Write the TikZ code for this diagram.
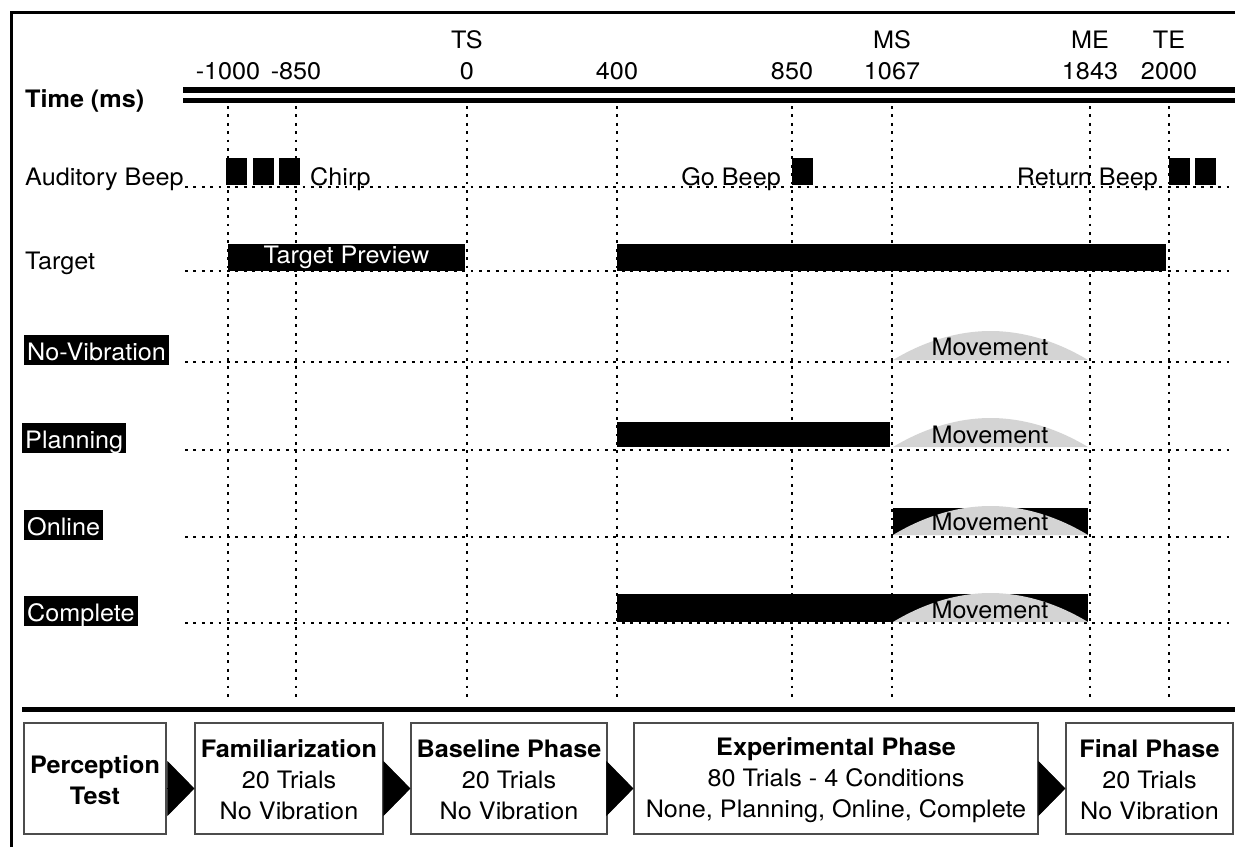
\documentclass[tikz,border=0pt]{standalone}
\usepackage{fontspec}
\setmainfont{TeX Gyre Heros}[FakeStretch=1.05]
\usetikzlibrary{arrows.meta}

\begin{document}
\begin{tikzpicture}[x=1pt, y=-1pt]
\tikzstyle{every node}=[font=\fontsize{24}{31}\selectfont, inner sep=0pt]
\tikzstyle{grid}=[line width=2.8pt, dash pattern=on 2.8pt off 5.6pt]
\tikzstyle{bar}=[fill=black]
\tikzstyle{move}=[fill=black!17]
\tikzstyle{tag}=[fill=black, text=white, inner xsep=3pt, inner ysep=2pt, text height=23pt, text depth=3pt, anchor=base west]
\tikzstyle{phase}=[draw=black!70, line width=1.2pt, align=center, minimum height=111pt]
\tikzstyle{next}=[-{Triangle[length=27pt, width=55pt]}, line width=0.5pt]

\useasboundingbox (0,0) rectangle (1235,847);

% frame
\draw[line width=3pt] (11,847) -- (11,12) -- (1235,12);

% time axis
\node[anchor=base west, font=\fontsize{24}{31}\selectfont\bfseries] (time) at (25,107) {Time (ms)};
\draw[line width=6pt] (183,90) -- (1235,90);
\draw[line width=5pt] (183,100.5) -- (1235,100.5);

\node[anchor=base] (TS) at (467,48) {TS};
\node[anchor=base] (MS) at (892,48) {MS};
\node[anchor=base] (ME) at (1090,48) {ME};
\node[anchor=base] (TE) at (1169,48) {TE};

\node[anchor=base] (t0) at (228,79) {-1000};
\node[anchor=base] (t1) at (296,79) {-850};
\node[anchor=base] (t2) at (467,79) {0};
\node[anchor=base] (t3) at (617,79) {400};
\node[anchor=base] (t4) at (792,79) {850};
\node[anchor=base] (t5) at (892,79) {1067};
\node[anchor=base] (t6) at (1090,79) {1843};
\node[anchor=base] (t7) at (1169,79) {2000};

% dotted grid
\foreach \t in {228,296,467,617,792,892,1090,1169}
  \draw[grid] (\t,106) -- (\t,700);
\foreach \r in {187,271,362,450,537,623}
  \draw[grid] (185,\r) -- (1235,\r);

% rows
\node[anchor=base west] (beep) at (25,185.5) {Auditory Beep};
\node[anchor=base west] (target) at (25,269) {Target};
\node[tag] (novib) at (24,360) {No-Vibration};
\node[tag] (plan) at (22,448) {Planning};
\node[tag] (online) at (24,535) {Online};
\node[tag] (complete) at (24,621) {Complete};

% auditory beeps
\fill[bar] (226,158) rectangle ++(21,27);
\fill[bar] (252.5,158) rectangle ++(21,27);
\fill[bar] (279,158) rectangle ++(21,27);
\node[anchor=base west] (chirp) at (310,185.5) {Chirp};
\node[anchor=base east] (go) at (781,185.5) {Go Beep};
\fill[bar] (792,158) rectangle ++(21,27);
\node[anchor=base east] (ret) at (1158,185.5) {Return Beep};
\fill[bar] (1169,158) rectangle ++(20.5,27);
\fill[bar] (1195,158) rectangle ++(21,27);

% target
\node[bar, text=white, minimum width=237pt, minimum height=27pt] (preview) at (346.5,257.5) {Target Preview};
\fill[bar] (617,244) rectangle (1166,271);

% no-vibration
\fill[move] (893,360) parabola bend (990.5,331) (1088,360) -- cycle;
\node[anchor=base] (mv1) at (990,355) {Movement};

% planning
\fill[bar] (617,422) rectangle (890,447);
\fill[move] (893,447) parabola bend (990.5,418) (1088,447) -- cycle;
\node[anchor=base] (mv2) at (990,443) {Movement};

% online
\fill[bar] (893,508) rectangle (1088,535);
\fill[move] (893,535) parabola bend (990.5,506) (1088,535) -- cycle;
\node[anchor=base] (mv3) at (990,530) {Movement};

% complete
\fill[bar] (617,594) rectangle (1088,622);
\fill[move] (893,622) parabola bend (990.5,593) (1088,622) -- cycle;
\node[anchor=base] (mv4) at (990,618) {Movement};

% phases
\draw[line width=5pt] (22,709) -- (1235,709);

\node[phase, minimum width=142pt] (perc) at (95,778.5) {\rule{0pt}{21pt}\textbf{Perception}\\\textbf{Test}};
\node[phase, minimum width=188pt] (fam) at (289,778.5) {\rule{0pt}{21pt}\textbf{Familiarization}\\20 Trials\\No Vibration};
\node[phase, minimum width=196pt] (base) at (509,778.5) {\rule{0pt}{21pt}\textbf{Baseline Phase}\\20 Trials\\No Vibration};
\node[phase, minimum width=404pt] (exp) at (836,778.5) {\rule{0pt}{21pt}\textbf{Experimental Phase}\\80 Trials - 4 Conditions\\None, Planning, Online, Complete};
\node[phase, minimum width=167pt] (final) at (1149.5,778.5) {\rule{0pt}{21pt}\textbf{Final Phase}\\20 Trials\\No Vibration};

\draw[next] ([yshift=-10pt]perc.east) -- ([yshift=-10pt]fam.west);
\draw[next] ([yshift=-10pt]fam.east) -- ([yshift=-10pt]base.west);
\draw[next] ([yshift=-10pt]base.east) -- ([yshift=-10pt]exp.west);
\draw[next] ([yshift=-10pt]exp.east) -- ([yshift=-10pt]final.west);
\end{tikzpicture}
\end{document}
